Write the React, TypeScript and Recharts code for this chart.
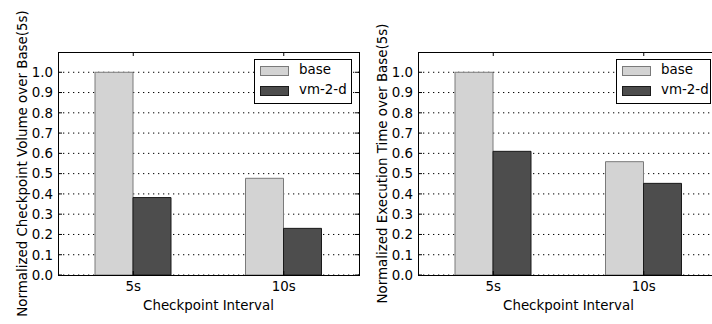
/* Two bar panels: checkpoint volume / execution time, normalized to base(5s) */
import { BarChart, Bar, XAxis, YAxis, CartesianGrid, Legend } from "recharts";

const intervals = ["5s", "10s"];
const seriesNames = ["base", "vm-2-d"];

const volumeBase = [1.0, 0.477];
const volumeVm = [0.382, 0.23];

const timeBase = [1.0, 0.559];
const timeVm = [0.61, 0.452];

const yTicks = [0, 0.1, 0.2, 0.3, 0.4, 0.5, 0.6, 0.7, 0.8, 0.9, 1.0];

const FILLS = ["#d3d3d3", "#4d4d4d"];
const STROKES = ["#7a7a7a", "#1a1a1a"];
const FS = 13.4;
const FONT = "'DejaVu Sans', sans-serif";

const CHART_W = 370;
const CHART_H = 324;
const Y_AXIS_W = 58;
const X_AXIS_H = 49;
const MARGIN = { top: 52, right: 11, bottom: 0, left: 0 };
const PLOT_RIGHT = CHART_W - MARGIN.right;
const PLOT_TOP = MARGIN.top;
const PLOT_BOTTOM = CHART_H - MARGIN.bottom - X_AXIS_H;

// matplotlib-style inward ticks (left tick also draws its twin on the right spine,
// bottom tick its twin on the top spine)
const LeftTick = ({ x, y, payload, spineRight }: any) => (
  <g>
    <line x1={x} x2={x + 4} y1={y} y2={y} stroke="#000" />
    <line x1={spineRight - 4} x2={spineRight} y1={y} y2={y} stroke="#000" />
    <text x={x - 5} y={y} dy="0.36em" textAnchor="end" fontSize={FS} fill="#000">
      {Number(payload.value).toFixed(1)}
    </text>
  </g>
);

const BottomTick = ({ x, y, payload, spineTop }: any) => (
  <g>
    <line x1={x} x2={x} y1={y} y2={y - 4} stroke="#000" />
    <line x1={x} x2={x} y1={spineTop} y2={spineTop + 4} stroke="#000" />
    <text x={x} y={y + 16} textAnchor="middle" fontSize={FS} fill="#000">
      {payload.value}
    </text>
  </g>
);

const YLabel = ({ viewBox, text }: any) => {
  const cx = viewBox.x + 26.5;
  const cy = viewBox.y + viewBox.height / 2;
  return (
    <text x={cx} y={cy} textAnchor="middle" fontSize={FS} fill="#000"
      transform={`rotate(-90, ${cx}, ${cy})`}>
      {text}
    </text>
  );
};

const XLabel = ({ viewBox }: any) => (
  <text x={viewBox.x + viewBox.width / 2} y={viewBox.y + 35} textAnchor="middle"
    fontSize={FS} fill="#000">
    Checkpoint Interval
  </text>
);

const LegendBox = ({ width }: { width: number }) => (
  <div style={{
    position: "relative", width, height: 45, boxSizing: "border-box",
    border: "1px solid #000", background: "#fff", fontSize: FS, fontFamily: FONT,
  }}>
    {seriesNames.map((n, i) => (
      <div key={n} style={{ position: "absolute", left: 0, top: 1 + 20 * i, height: 20, width: "100%" }}>
        <span style={{
          position: "absolute", left: 4.7, top: 5, width: 29, height: 10, boxSizing: "border-box",
          background: FILLS[i], border: `1px solid ${STROKES[i]}`,
        }} />
        <span style={{ position: "absolute", left: 44, top: 1, lineHeight: "16px", color: "#000" }}>{n}</span>
      </div>
    ))}
  </div>
);

function Panel({ base, vm, ylabel, legendLeft, legendWidth }: any) {
  const data = intervals.map((interval, i) => ({ interval, base: base[i], vm: vm[i] }));
  return (
    <div style={{ position: "relative", width: CHART_W, height: CHART_H }}>
      <BarChart width={CHART_W} height={CHART_H} data={data} barGap={0} margin={MARGIN}>
        <XAxis dataKey="interval" height={X_AXIS_H} tickSize={0} tickMargin={0} tickLine={false}
          interval={0} axisLine={false} tick={<BottomTick spineTop={PLOT_TOP} />}
          label={<XLabel />} />
        <YAxis domain={[0, 1.1]} ticks={yTicks} interval={0} width={Y_AXIS_W} tickSize={0}
          tickMargin={0} tickLine={false} axisLine={false}
          tick={<LeftTick spineRight={PLOT_RIGHT} />} label={<YLabel text={ylabel} />} />
        <Bar dataKey="base" name={seriesNames[0]} barSize={38} fill={FILLS[0]}
          stroke={STROKES[0]} isAnimationActive={false} />
        <Bar dataKey="vm" name={seriesNames[1]} barSize={38} fill={FILLS[1]}
          stroke={STROKES[1]} isAnimationActive={false} />
        <CartesianGrid vertical={false} stroke="#000" strokeDasharray="1.3 3.7"
          horizontalValues={yTicks} />
        <Legend layout="horizontal" verticalAlign="middle" align="center"
          wrapperStyle={{ left: legendLeft, top: 59, width: legendWidth, height: 45 }}
          content={() => <LegendBox width={legendWidth} />} />
      </BarChart>
      {/* plot frame (all four spines) */}
      <div style={{
        position: "absolute", pointerEvents: "none", boxSizing: "border-box",
        left: Y_AXIS_W - 0.5, top: PLOT_TOP - 0.5,
        width: PLOT_RIGHT - Y_AXIS_W + 1, height: PLOT_BOTTOM - PLOT_TOP + 1,
        border: "1px solid #000",
      }} />
    </div>
  );
}

export default function App() {
  return (
    <div style={{
      position: "fixed", left: 0, top: 0, width: 712, height: 324, overflow: "hidden",
      background: "#fff", fontFamily: FONT,
    }}>
      <div style={{ position: "absolute", left: 0, top: 0 }}>
        <Panel base={volumeBase} vm={volumeVm} legendLeft={254} legendWidth={98}
          ylabel="Normalized Checkpoint Volume over Base(5s)" />
      </div>
      <div style={{ position: "absolute", left: 360, top: 0 }}>
        <Panel base={timeBase} vm={timeVm} legendLeft={256} legendWidth={95}
          ylabel="Normalized Execution Time over Base(5s)" />
      </div>
    </div>
  );
}
